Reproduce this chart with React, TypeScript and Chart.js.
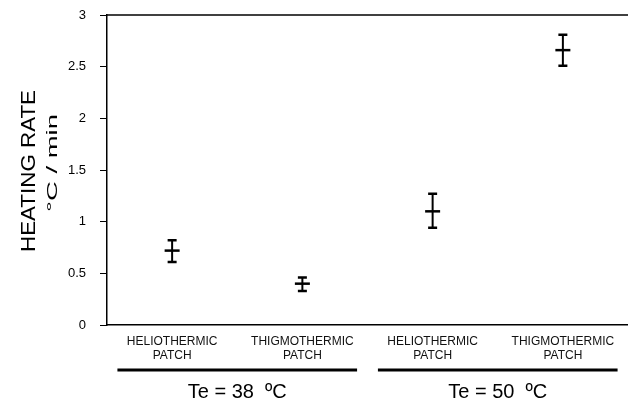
import React, { useEffect, useRef } from "react";
import { Chart, registerables } from "chart.js";

Chart.register(...registerables);

const categories: string[][] = [
  ["HELIOTHERMIC", "PATCH"],
  ["THIGMOTHERMIC", "PATCH"],
  ["HELIOTHERMIC", "PATCH"],
  ["THIGMOTHERMIC", "PATCH"],
];
const means = [0.72, 0.4, 1.1, 2.66];
const upper = [0.82, 0.46, 1.27, 2.81];
const lower = [0.61, 0.33, 0.94, 2.51];
const groupLabels = ["Te = 38  ºC", "Te = 50  ºC"];
const groupMembers = [
  [0, 1],
  [2, 3],
];
const yMin = 0;
const yMax = 3;
const yStep = 0.5;
const yTitle = "HEATING RATE";
const yUnit = "°C / min";

function drawStretched(
  ctx: CanvasRenderingContext2D,
  text: string,
  font: string,
  x: number,
  y: number,
  targetWidth: number,
  rotate: boolean
) {
  ctx.save();
  ctx.font = font;
  const w = ctx.measureText(text).width;
  ctx.translate(x, y);
  if (rotate) ctx.rotate(-Math.PI / 2);
  ctx.scale(targetWidth / w, 1);
  ctx.textAlign = "center";
  ctx.textBaseline = "alphabetic";
  ctx.fillStyle = "#000";
  ctx.fillText(text, 0, 0);
  ctx.restore();
}

const decorPlugin = {
  id: "decor",
  afterDraw(chart: any) {
    const ctx: CanvasRenderingContext2D = chart.ctx;
    const xs = chart.scales.x;
    const ys = chart.scales.y;
    const area = chart.chartArea;
    ctx.save();
    // top border
    ctx.strokeStyle = "#000";
    ctx.lineWidth = 1.5;
    ctx.beginPath();
    ctx.moveTo(area.left, area.top);
    ctx.lineTo(area.right, area.top);
    ctx.stroke();

    // error bars
    for (let i = 0; i < means.length; i++) {
      const x = xs.getPixelForValue(i);
      const yt = ys.getPixelForValue(upper[i]);
      const yb = ys.getPixelForValue(lower[i]);
      ctx.lineWidth = 2;
      ctx.beginPath();
      ctx.moveTo(x, yt);
      ctx.lineTo(x, yb);
      ctx.stroke();
      ctx.lineWidth = 2.5;
      ctx.beginPath();
      ctx.moveTo(x - 4.5, yt);
      ctx.lineTo(x + 4.5, yt);
      ctx.moveTo(x - 4.5, yb);
      ctx.lineTo(x + 4.5, yb);
      ctx.stroke();
    }

    // group lines and labels
    const band = xs.getPixelForValue(1) - xs.getPixelForValue(0);
    groupMembers.forEach((members, g) => {
      const x1 = xs.getPixelForValue(members[0]) - 0.42 * band;
      const x2 = xs.getPixelForValue(members[members.length - 1]) + 0.42 * band;
      const y = xs.top + 45;
      ctx.lineWidth = 3;
      ctx.beginPath();
      ctx.moveTo(x1, y);
      ctx.lineTo(x2, y);
      ctx.stroke();
      ctx.fillStyle = "#000";
      ctx.font = "20px Arial, 'Liberation Sans', sans-serif";
      ctx.textAlign = "center";
      ctx.textBaseline = "middle";
      ctx.fillText(groupLabels[g], (x1 + x2) / 2, xs.top + 67);
    });

    // y axis titles
    drawStretched(ctx, yTitle, "20px Arial, 'Liberation Sans', sans-serif", 35, 171, 162, true);
    drawStretched(ctx, yUnit, "15px Arial, 'Liberation Sans', sans-serif", 57, 163, 98, true);
    ctx.restore();
  },
};

export default function App() {
  const ref = useRef<HTMLCanvasElement | null>(null);
  useEffect(() => {
    document.body.style.margin = "0";
    if (!ref.current) return;
    const chart = new Chart(ref.current, {
      type: "line",
      data: {
        labels: categories as any,
        datasets: [
          {
            data: means,
            showLine: false,
            pointStyle: "line",
            pointRadius: 7.5,
            pointBorderWidth: 2.5,
            borderColor: "#000",
            backgroundColor: "#000",
          },
        ],
      },
      options: {
        animation: false,
        responsive: false,
        maintainAspectRatio: false,
        devicePixelRatio: 1,
        layout: { autoPadding: false, padding: { top: 15, right: 0, left: 0, bottom: 0 } },
        plugins: {
          legend: { display: false },
          tooltip: { enabled: false },
          title: { display: false },
        },
        scales: {
          x: {
            type: "category",
            offset: true,
            grid: { display: false, drawTicks: false },
            border: { display: true, color: "#000", width: 1.5 },
            ticks: {
              color: "#111",
              font: { family: "Arial, 'Liberation Sans', sans-serif", size: 12 },
              padding: 9,
              maxRotation: 0,
              autoSkip: false,
            },
            afterFit: (scale: any) => {
              scale.height = 79;
              scale.paddingLeft = 0;
              scale.paddingRight = 0;
              scale.paddingTop = 0;
              scale.paddingBottom = 0;
            },
          },
          y: {
            min: yMin,
            max: yMax,
            grid: {
              display: true,
              drawOnChartArea: false,
              drawTicks: true,
              tickLength: 7,
              color: "#000",
              lineWidth: 1,
            },
            border: { display: true, color: "#000", width: 1.5 },
            ticks: {
              stepSize: yStep,
              color: "#000",
              font: { family: "Arial, 'Liberation Sans', sans-serif", size: 13 },
              padding: 14,
              callback: (v: any) => String(Number(v)),
            },
            afterFit: (scale: any) => {
              scale.width = 107;
              scale.paddingTop = 0;
              scale.paddingBottom = 0;
              scale.paddingLeft = 0;
              scale.paddingRight = 0;
            },
          },
        },
      },
      plugins: [decorPlugin],
    });
    return () => chart.destroy();
  }, []);
  return (
    <div style={{ position: "absolute", left: 0, top: 0, width: 628, height: 404 }}>
      <canvas ref={ref} width={628} height={404} style={{ display: "block" }} />
    </div>
  );
}
